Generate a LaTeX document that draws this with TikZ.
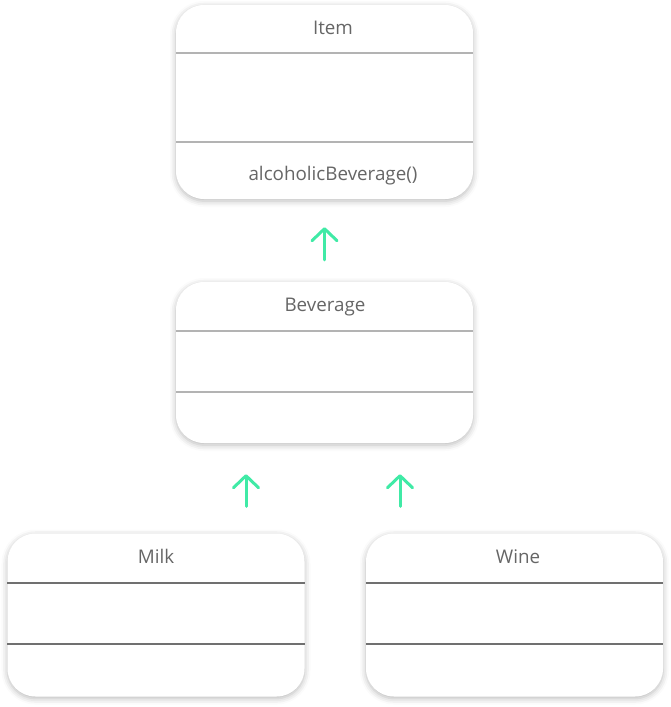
\documentclass[tikz,border=0pt]{standalone}
\usepackage{fontspec}
\setmainfont{Open Sans}
\usetikzlibrary{shadows.blur,calc,arrows.meta}
\definecolor{txt}{HTML}{666666}
\definecolor{lineA}{HTML}{B3B3B3}
\definecolor{lineB}{HTML}{707070}
\definecolor{arr}{RGB}{64,234,166}
\tikzset{
  umlbox/.style={draw=none, fill=white, rounded corners=28pt, inner sep=0pt,
    minimum width=297pt,
    blur shadow={shadow xshift=0pt, shadow yshift=-2pt, shadow blur radius=6pt, shadow opacity=28}},
  lbl/.style={text=txt, font=\fontsize{18.8}{22}\selectfont, inner sep=0pt, anchor=base},
  sepA/.style={draw=lineA, line width=1.6pt},
  sepB/.style={draw=lineB, line width=1.2pt},
  inh/.style={draw=arr, line width=3pt, line cap=round, line join=round,
    -{Straight Barb[length=12pt,width=25pt,line cap=round,line join=round]}},
}
\begin{document}
\begin{tikzpicture}[x=1pt,y=1pt]
\useasboundingbox (0,0) rectangle (671,-707);
% boxes
\node[umlbox, minimum height=194pt] (item) at (324.5,-102) {};
\node[umlbox, minimum height=161pt] (bev) at (324.5,-362.5) {};
\node[umlbox, minimum height=163pt] (milk) at (156,-615) {};
\node[umlbox, minimum height=163pt] (wine) at (514.5,-615) {};
% item
\node[lbl] (itemname) at (333,-34) {Item};
\draw[sepA] (item.west |- 0,-53) -- (item.east |- 0,-53);
\draw[sepA] (item.west |- 0,-142) -- (item.east |- 0,-142);
\node[lbl] (itemop) at (333,-180) {alcoholicBeverage()};
% beverage
\node[lbl] (bevname) at (325,-311) {Beverage};
\draw[sepA] (bev.west |- 0,-331) -- (bev.east |- 0,-331);
\draw[sepA] (bev.west |- 0,-392) -- (bev.east |- 0,-392);
% milk
\node[lbl] (milkname) at (156,-563) {Milk};
\draw[sepB] (milk.west |- 0,-583) -- (milk.east |- 0,-583);
\draw[sepB] (milk.west |- 0,-644) -- (milk.east |- 0,-644);
% wine
\node[lbl] (winename) at (518,-563) {Wine};
\draw[sepB] (wine.west |- 0,-583) -- (wine.east |- 0,-583);
\draw[sepB] (wine.west |- 0,-644) -- (wine.east |- 0,-644);
% arrows
\draw[inh] ([yshift=22pt]bev.north) -- ([yshift=-28pt]item.south);
\draw[inh] ([xshift=-78.5pt,yshift=27pt]bev.south |- milk.north) -- ([xshift=-78.5pt,yshift=-31pt]bev.south);
\draw[inh] ([xshift=75.5pt,yshift=27pt]bev.south |- wine.north) -- ([xshift=75.5pt,yshift=-31pt]bev.south);
\end{tikzpicture}
\end{document}
